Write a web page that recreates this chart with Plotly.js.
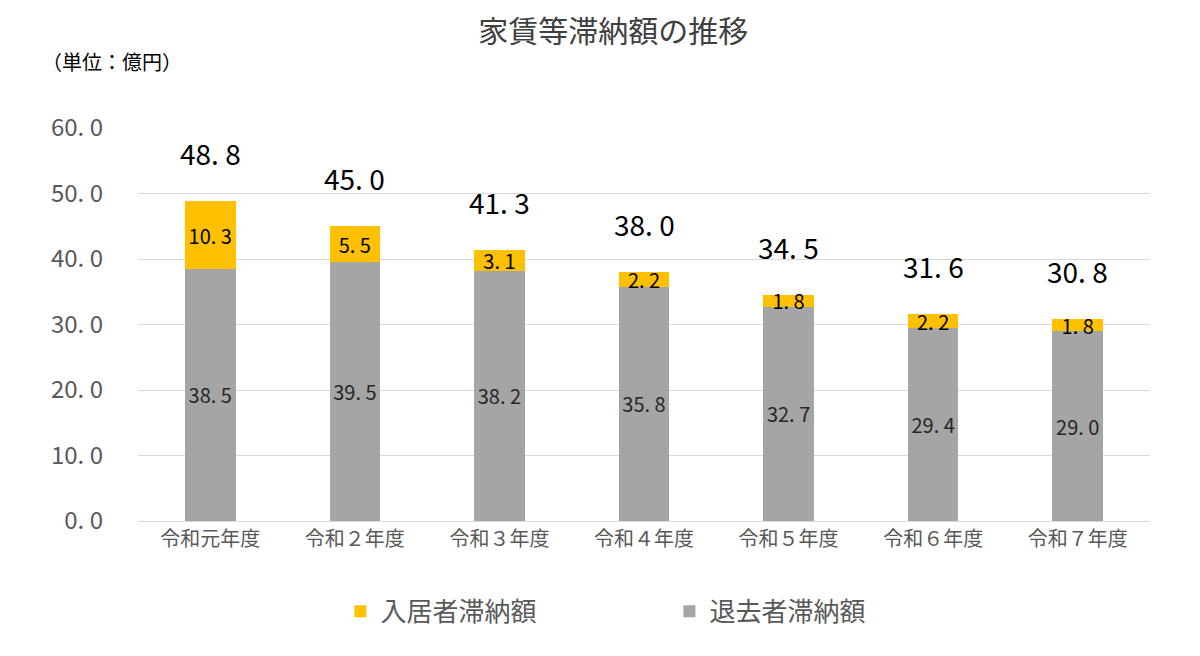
<!DOCTYPE html>
<html>
<head>
<meta charset="utf-8">
<script src="https://cdn.plot.ly/plotly-3.0.1.min.js"></script>
<style>
  body { margin: 0; background: #fff; }
  #plot { width: 1200px; height: 656px; }
</style>
</head>
<body>
<div id="plot"></div>
<script>
// data (億円)
var years = ['令和元年度', '令和２年度', '令和３年度', '令和４年度', '令和５年度', '令和６年度', '令和７年度'];
var taikyo = [38.5, 39.5, 38.2, 35.8, 32.7, 29.4, 29.0];   // 退去者滞納額
var nyukyo = [10.3, 5.5, 3.1, 2.2, 1.8, 2.2, 1.8];          // 入居者滞納額
var totals = [48.8, 45.0, 41.3, 38.0, 34.5, 31.6, 30.8];
var yTicks = [0, 10, 20, 30, 40, 50, 60];

// "48.8" -> "48. 8" like the original
function fmt(v) {
  return v.toFixed(1).replace('.', '. ');
}

var font = '"Noto Sans CJK JP", "Noto Sans", sans-serif';

var traceTaikyo = {
  x: years, y: taikyo,
  name: '退去者滞納額',
  type: 'bar',
  marker: {color: '#A5A5A5'},
  text: taikyo.map(fmt),
  textposition: 'inside',
  insidetextanchor: 'middle',
  textangle: 0,
  constraintext: 'none',
  textfont: {family: font, size: 20, color: '#262626'},
  hoverinfo: 'skip'
};

var traceNyukyo = {
  x: years, y: nyukyo,
  name: '入居者滞納額',
  type: 'bar',
  marker: {color: '#FFC000'},
  text: nyukyo.map(fmt),
  textposition: 'inside',
  insidetextanchor: 'middle',
  textangle: 0,
  constraintext: 'none',
  textfont: {family: font, size: 20, color: '#000'},
  hoverinfo: 'skip'
};

// totals above each bar
var totalNotes = years.map(function(y, i) {
  return {
    x: y, y: totals[i],
    xref: 'x', yref: 'y',
    text: fmt(totals[i]),
    showarrow: false,
    yanchor: 'bottom',
    yshift: 26,
    font: {family: font, size: 28, color: '#000'}
  };
});

totalNotes.push({
  xref: 'paper', yref: 'paper',
  x: -0.097, y: 1.168,
  xanchor: 'left', yanchor: 'middle',
  text: '（単位：億円）',
  showarrow: false,
  font: {family: font, size: 20, color: '#000'}
});

var layout = {
  width: 1200, height: 656,
  paper_bgcolor: '#fff', plot_bgcolor: '#fff',
  margin: {l: 138, r: 50, t: 128, b: 135},
  title: {
    text: '家賃等滞納額の推移',
    x: 0.511, xref: 'container',
    y: 0.952, yref: 'container', yanchor: 'middle',
    font: {family: font, size: 30, color: '#404040'}
  },
  barmode: 'stack',
  bargap: 0.65,
  showlegend: true,
  legend: {
    orientation: 'h',
    traceorder: 'reversed',
    x: 0.2, xanchor: 'left',
    y: -0.23, yanchor: 'middle',
    entrywidth: 284,
    font: {family: font, size: 26, color: '#595959'}
  },
  xaxis: {
    showgrid: false,
    showline: true, linecolor: '#D9D9D9', linewidth: 1,
    ticks: '',
    tickfont: {family: font, size: 20, color: '#595959'}
  },
  yaxis: {
    range: [0, 60],
    tickvals: yTicks,
    ticktext: yTicks.map(fmt),
    showgrid: true, gridcolor: '#D9D9D9', gridwidth: 1,
    zeroline: false,
    showline: false,
    ticks: '',
    ticklabelstandoff: 34,
    tickfont: {family: font, size: 24, color: '#595959'}
  },
  annotations: totalNotes
};

Plotly.newPlot('plot', [traceTaikyo, traceNyukyo], layout, {staticPlot: true});
</script>
</body>
</html>
